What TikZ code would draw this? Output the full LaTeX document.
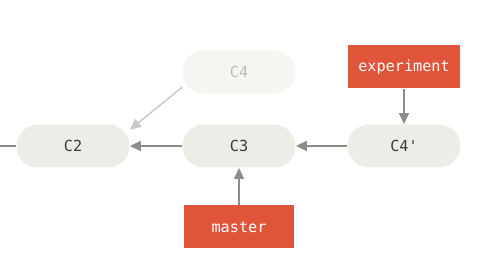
\documentclass[tikz,border=0pt]{standalone}
\usepackage{fontspec}
\setmonofont{DejaVu Sans Mono}
\usetikzlibrary{arrows.meta}
\definecolor{GIT_Orange}{HTML}{E0553A}
\definecolor{GIT_Pill}{HTML}{EDEDE7}
\definecolor{GIT_PillFaded}{HTML}{F5F5F1}
\definecolor{GIT_Text}{HTML}{3A3A38}
\definecolor{GIT_TextFaded}{HTML}{BDBDB8}
\definecolor{GIT_Arrow}{HTML}{8C8C88}
\definecolor{GIT_ArrowFaded}{HTML}{C9C9C5}

\begin{document}
\begin{tikzpicture}[
    x=0.5pt, y=-0.5pt,
    commit/.style={minimum width=56.5pt, minimum height=21.5pt, rounded corners=10.75pt, fill=GIT_Pill, text=GIT_Text, font=\ttfamily\fontsize{7.6}{9}\selectfont, anchor=center},
    faded/.style={commit, fill=GIT_PillFaded, text=GIT_TextFaded},
    branch/.style={minimum width=56pt, minimum height=21.5pt, fill=GIT_Orange, text=white, font=\ttfamily\fontsize{7.6}{9}\selectfont, anchor=center},
    link/.style={draw=GIT_Arrow, line width=0.75pt, -{Triangle[length=5.5pt, width=5pt]}},
    fadedlink/.style={link, draw=GIT_ArrowFaded}
]
\useasboundingbox (0,0) rectangle (490,271);
\node[commit] (C2) at (73, 146) {C2};
\node[commit] (C3) at (239, 146) {C3};
\node[commit] (C4p) at (404, 146) {C4'};
\node[faded] (C4) at (239, 72) {C4};
\node[branch] (experiment) at (404, 67) {experiment};
\node[branch, minimum width=55pt] (master) at (239, 227) {master};
\coordinate (left) at (0, 146);
\draw[draw=GIT_Arrow, line width=0.75pt] (left) -- (C2);
\draw[link] (C3) -- (C2);
\draw[link] (C4p) -- (C3);
\draw[link] (experiment) -- (C4p);
\draw[link] (master) -- (C3);
\draw[fadedlink] (C4.195) -- (C2.16);
\end{tikzpicture}
\end{document}
